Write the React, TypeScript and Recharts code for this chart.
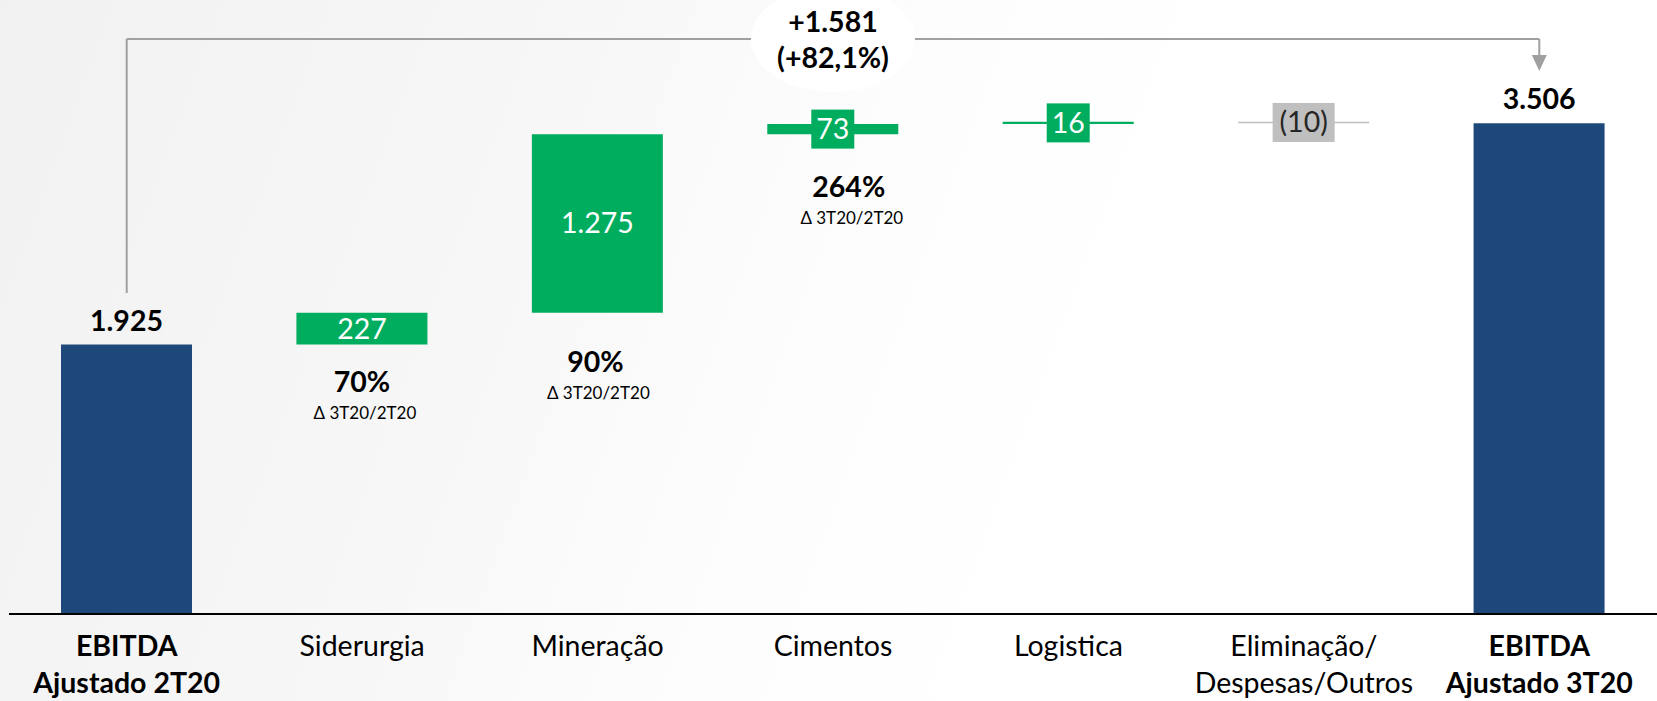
import React from 'react';
import { BarChart, Bar, XAxis, YAxis, Cell, LabelList, ReferenceLine, ReferenceDot } from 'recharts';

const categories = [
  'EBITDA\nAjustado 2T20',
  'Siderurgia',
  'Mineração',
  'Cimentos',
  'Logistica',
  'Eliminação/\nDespesas/Outros',
  'EBITDA\nAjustado 3T20',
];
const changes = [1925, 227, 1275, 73, 16, -10, 3506];
const kinds = ['total', 'delta', 'delta', 'delta', 'delta', 'delta', 'total'];
const pctLabels = ['', '70%', '90%', '264%', '', '', ''];
const pctCaption = 'Δ 3T20/2T20';

// annotation levels in data units (bracket over the chart)
const BRACKET_LEVEL = 4107;
const BRACKET_START = 2293;
const ARROW_BASE = 3993;
const ARROW_TIP = 3879;

// manual nudges for the % notes (px below the bar bottom / sideways)
const PCT_DY = [0, 47, 59, 63, 0, 0, 0];
const PCT_DX = [0, 0, -2, 16, 0, 0, 0];

const BLUE = '#1F487A';
const GREEN = '#00AD5F';
const GREY = '#BFBFBF';
const FONT = 'Lato, "Open Sans", sans-serif';
const FS = 28.5;

const fmt = (v: number) => {
  const s = Math.abs(v).toString().replace(/\B(?=(\d{3})+(?!\d))/g, '.');
  return v < 0 ? `(${s})` : s;
};

let running = 0;
const data = categories.map((name, i) => {
  const v = changes[i];
  if (kinds[i] === 'total') {
    running = v;
    return { name, base: 0, value: v };
  }
  if (v >= 0) {
    const row = { name, base: running, value: v };
    running += v;
    return row;
  }
  running += v;
  return { name, base: running, value: -v };
});

const first = changes[0];
const last = changes[changes.length - 1];
const diff = last - first;
const diffPct = ((diff / first) * 100).toFixed(1).replace('.', ',');

const colorFor = (i: number) => {
  if (kinds[i] === 'total') return BLUE;
  return changes[i] >= 0 ? GREEN : GREY;
};

const ValueLabel = (props: any) => {
  const { x, y, width, height, index } = props;
  const cx = x + width / 2;
  const text = fmt(changes[index]);
  if (kinds[index] === 'total') {
    return (
      <text x={cx} y={y - 14} textAnchor="middle" fontFamily={FONT} fontWeight={700} fontSize={FS} fill="#000">
        {text}
      </text>
    );
  }
  const cy = y + height / 2;
  if (height >= 25) {
    return (
      <text x={cx} y={cy + 10} textAnchor="middle" fontFamily={FONT} fontSize={FS} fill="#fff">
        {text}
      </text>
    );
  }
  const w = text.replace(/[()]/g, '').length * 15 + (text.includes('(') ? 32 : 13);
  const neg = changes[index] < 0;
  return (
    <g>
      <rect x={cx - w / 2} y={cy - 19.5} width={w} height={39} fill={colorFor(index)} />
      <text x={cx} y={cy + 10} textAnchor="middle" fontFamily={FONT} fontSize={FS} fill={neg ? '#262626' : '#fff'}>
        {text}
      </text>
    </g>
  );
};

const PctLabel = (props: any) => {
  const { x, y, width, height, index } = props;
  if (!pctLabels[index]) return null;
  const cx = x + width / 2 + PCT_DX[index];
  const by = y + height + PCT_DY[index];
  return (
    <g>
      <text x={cx} y={by} textAnchor="middle" fontFamily={FONT} fontWeight={700} fontSize={FS} fill="#000">
        {pctLabels[index]}
      </text>
      <text x={cx + 3} y={by + 27} textAnchor="middle" fontFamily={FONT} fontSize={17} fill="#000">
        {pctCaption}
      </text>
    </g>
  );
};

const CategoryTick = (props: any) => {
  const { x, y, payload, index } = props;
  const lines = String(payload.value).split('\n');
  const bold = kinds[index] === 'total';
  return (
    <text x={x} y={y} textAnchor="middle" fontFamily={FONT} fontSize={FS} fontWeight={bold ? 700 : 400} fill="#000">
      {lines.map((l, i) => (
        <tspan key={i} x={x} y={y + 42 + i * 37}>
          {l}
        </tspan>
      ))}
    </text>
  );
};

const Bubble = (props: any) => {
  const { cx, cy } = props;
  return (
    <g>
      <ellipse cx={cx} cy={cy} rx={82} ry={53} fill="#fff" />
      <text x={cx} y={cy - 7} textAnchor="middle" fontFamily={FONT} fontWeight={700} fontSize={FS} fill="#000">
        {`+${fmt(diff)}`}
      </text>
      <text x={cx} y={cy + 29} textAnchor="middle" fontFamily={FONT} fontWeight={700} fontSize={FS} fill="#000">
        {`(+${diffPct}%)`}
      </text>
    </g>
  );
};

const ArrowHead = (props: any) => {
  const { cx, cy } = props;
  return <path d={`M${cx - 7.5},${cy - 16} L${cx + 7.5},${cy - 16} L${cx},${cy} Z`} fill="#A0A0A0" />;
};

export default function App() {
  return (
    <div
      style={{
        position: 'absolute',
        left: 0,
        top: 0,
        width: 1657,
        height: 701,
        background: 'linear-gradient(110deg, #f1f1f1 0%, #f7f7f7 30%, #fdfdfd 50%, #ffffff 65%)',
      }}
    >
      <BarChart width={1657} height={701} data={data} margin={{ top: 54, right: 0, left: 9, bottom: 0 }} barSize={131}>
        <XAxis
          dataKey="name"
          height={87}
          tickLine={false}
          tickSize={0}
          tickMargin={0}
          interval={0}
          axisLine={{ stroke: '#000', strokeWidth: 2 }}
          tick={<CategoryTick />}
        />
        <YAxis hide domain={[0, 4000]} />
        <ReferenceLine
          segment={[
            { x: categories[0], y: BRACKET_START },
            { x: categories[0], y: BRACKET_LEVEL },
          ]}
          stroke="#A0A0A0"
          strokeWidth={2}
          ifOverflow="visible"
        />
        <ReferenceLine
          segment={[
            { x: categories[0], y: BRACKET_LEVEL },
            { x: categories[6], y: BRACKET_LEVEL },
          ]}
          stroke="#A0A0A0"
          strokeWidth={2}
          ifOverflow="visible"
        />
        <ReferenceLine
          segment={[
            { x: categories[6], y: BRACKET_LEVEL },
            { x: categories[6], y: ARROW_BASE },
          ]}
          stroke="#A0A0A0"
          strokeWidth={2}
          ifOverflow="visible"
        />
        <Bar dataKey="base" stackId="w" fill="transparent" isAnimationActive={false} />
        <Bar dataKey="value" stackId="w" isAnimationActive={false}>
          {data.map((_, i) => (
            <Cell key={`cell-${i}`} fill={colorFor(i)} />
          ))}
          <LabelList dataKey="value" content={<ValueLabel />} />
          <LabelList dataKey="value" content={<PctLabel />} />
        </Bar>
        <ReferenceDot x={categories[6]} y={ARROW_TIP} ifOverflow="visible" shape={<ArrowHead />} />
        <ReferenceDot x={categories[3]} y={BRACKET_LEVEL} ifOverflow="visible" shape={<Bubble />} />
      </BarChart>
    </div>
  );
}
